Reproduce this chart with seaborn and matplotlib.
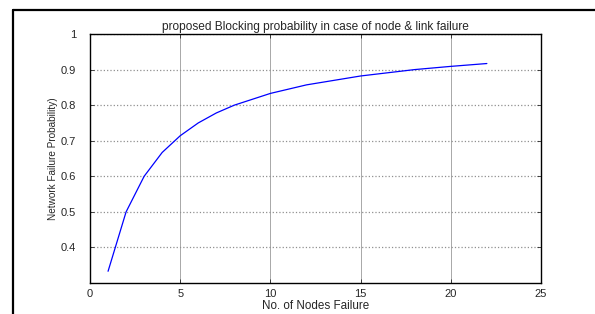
import numpy as np
import pandas as pd
import matplotlib
matplotlib.use("Agg")
import matplotlib.pyplot as plt
import seaborn as sns

# values
nodes_failed = [1, 2, 3, 4, 5, 6, 7, 8, 10, 12, 15, 18, 20, 22]
failure_prob = [0.333, 0.5, 0.6, 0.667, 0.714, 0.75, 0.778, 0.8,
                0.833, 0.857, 0.882, 0.9, 0.909, 0.917]
x_ticks = [0, 5, 10, 15, 20, 25]
y_ticks = [0.4, 0.5, 0.6, 0.7, 0.8, 0.9, 1]
y_tick_labels = ["0.4", "0.5", "0.6", "0.7", "0.8", "0.9", "1"]

df = pd.DataFrame({"nodes": nodes_failed, "prob": failure_prob})

sns.set_style("white")
plt.rcParams["font.family"] = ["Liberation Sans", "DejaVu Sans"]

fig = plt.figure(figsize=(5.95, 3.14), dpi=100)
ax = fig.add_axes([0.1513, 0.0987, 0.7579, 0.793])

sns.lineplot(data=df, x="nodes", y="prob", color="blue", linewidth=0.9, ax=ax)

ax.set_xlim(0, 25)
ax.set_ylim(0.3, 1)
ax.set_xticks(x_ticks)
ax.set_yticks(y_ticks)
ax.set_yticklabels(y_tick_labels)
ax.xaxis.grid(True, color="#a8a8a8", linestyle="-", linewidth=0.7)
ax.yaxis.grid(True, color="#909090", linestyle=":", linewidth=0.9)
ax.tick_params(direction="in", length=3, width=0.6, labelsize=8,
               top=True, right=True, bottom=True, left=True)
ax.tick_params(axis="y", pad=10)
ax.tick_params(axis="x", pad=4)
for s in ax.spines.values():
    s.set_color("black")
    s.set_linewidth(1.0)

ax.set_xlabel("No. of Nodes Failure", fontsize=8.4, labelpad=1)
ax.set_ylabel("Network Failure Probability)", fontsize=7.2, labelpad=2)
ax.set_title("proposed Blocking probability in case of node & link failure",
             fontsize=8.6, pad=3)

# outer frame (left and top edges only)
fig.add_artist(plt.Line2D([13 / 595, 13 / 595], [0, 1 - 10 / 314],
                          transform=fig.transFigure, color="black", linewidth=1.6))
fig.add_artist(plt.Line2D([13 / 595, 1], [1 - 10 / 314, 1 - 10 / 314],
                          transform=fig.transFigure, color="black", linewidth=1.6))

plt.savefig("out.png", dpi=100)
